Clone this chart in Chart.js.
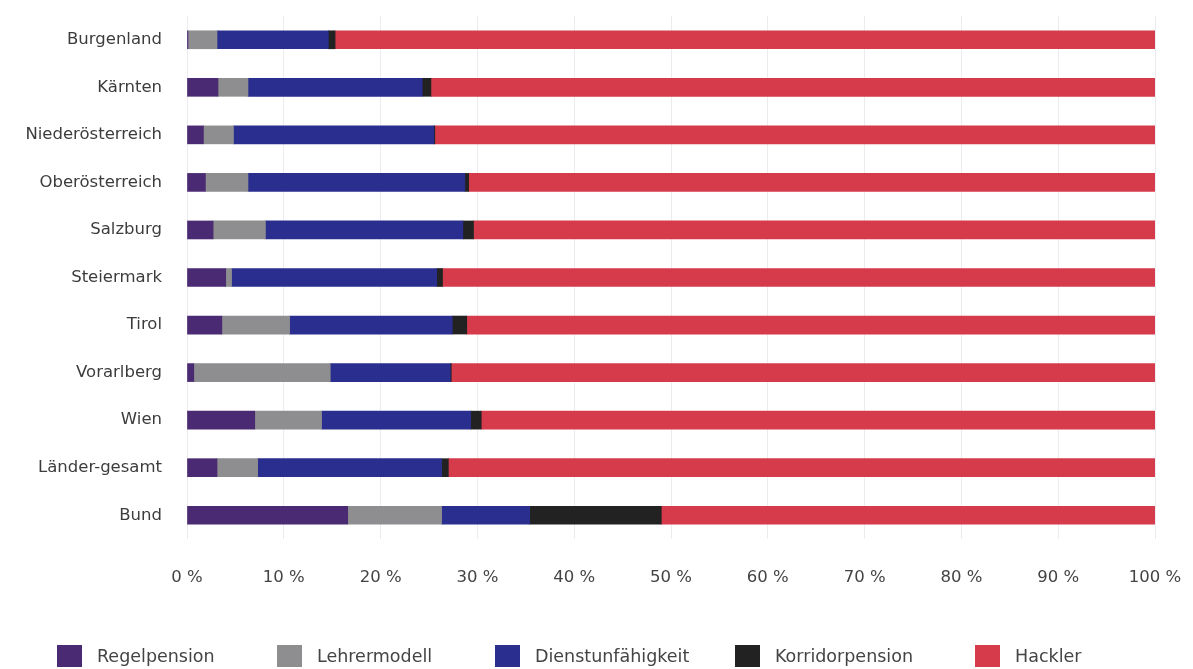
<!DOCTYPE html>
<html>
<head>
<meta charset="utf-8">
<script src="https://cdn.jsdelivr.net/npm/chart.js@4.4.0/dist/chart.umd.min.js"></script>
<style>
    html, body { margin: 0; padding: 0; background: #fff; }
    #wrap { position: relative; width: 1193px; height: 669px; }
    #legend { position: absolute; top: 645px; left: 0; width: 1193px; height: 24px;
        font-family: "DejaVu Sans", sans-serif; font-size: 17.5px; color: #444; }
    .item { position: absolute; top: 0; display: flex; align-items: center; }
    .box { width: 25px; height: 22px; margin-right: 15px; }
</style>
</head>
<body>
<div id="wrap">
    <canvas id="chart" width="1193" height="669"></canvas>
    <div id="legend"></div>
</div>
<script>
// Kategorien und Anteile in Prozent
const regions = ['Burgenland', 'Kärnten', 'Niederösterreich', 'Oberösterreich', 'Salzburg',
    'Steiermark', 'Tirol', 'Vorarlberg', 'Wien', 'Länder-gesamt', 'Bund'];

const regelpension      = [0.1, 3.2, 1.7, 1.9, 2.7, 4.0, 3.6, 0.7, 7.0, 3.1, 16.6];
const lehrermodell      = [3.0, 3.1, 3.1, 4.4, 5.4, 0.6, 7.0, 14.1, 6.9, 4.2, 9.7];
const dienstunfaehig    = [11.5, 18.0, 20.7, 22.4, 20.4, 21.2, 16.8, 12.4, 15.4, 19.0, 9.1];
const korridorpension   = [0.7, 0.9, 0.1, 0.4, 1.1, 0.6, 1.5, 0.1, 1.1, 0.7, 13.6];
const hackler           = [84.7, 74.8, 74.4, 70.9, 70.4, 73.6, 71.1, 72.7, 69.6, 73.0, 51.0];

const xTicks = [0, 10, 20, 30, 40, 50, 60, 70, 80, 90, 100];

const seriesNames = ['Regelpension', 'Lehrermodell', 'Dienstunfähigkeit', 'Korridorpension', 'Hackler'];
const seriesData = [regelpension, lehrermodell, dienstunfaehig, korridorpension, hackler];
const seriesColors = ['#4a2a72', '#8e8e90', '#2a2e8e', '#222222', '#d63b4c'];
const legendLeft = [57, 277, 495, 735, 975];

const FONT = '"DejaVu Sans", sans-serif';

new Chart(document.getElementById('chart'), {
    type: 'bar',
    data: {
        labels: regions,
        datasets: seriesNames.map((name, i) => ({
            label: name,
            data: seriesData[i],
            backgroundColor: seriesColors[i],
            borderWidth: 0,
            barThickness: 18
        }))
    },
    options: {
        indexAxis: 'y',
        responsive: false,
        animation: false,
        layout: { padding: { top: 16, right: 38, bottom: 69, left: 0 } },
        plugins: {
            legend: { display: false },
            tooltip: { enabled: false }
        },
        scales: {
            x: {
                stacked: true,
                min: 0,
                max: 100,
                afterBuildTicks: function(scale) {
                    scale.ticks = xTicks.map(v => ({ value: v }));
                },
                afterFit: function(scale) { scale.height = 61; },
                border: { display: false },
                // Abstand zu den Beschriftungen über unsichtbare Tick-Striche
                grid: { color: '#ececf0', tickColor: 'transparent', tickLength: 29 },
                ticks: {
                    padding: 0,
                    color: '#444',
                    font: { family: FONT, size: 16.5 },
                    callback: function(value) { return value + ' %'; }
                }
            },
            y: {
                stacked: true,
                afterFit: function(scale) { scale.width = 187; },
                border: { display: false },
                grid: { drawOnChartArea: false, tickColor: 'transparent', tickLength: 25 },
                ticks: {
                    padding: 0,
                    color: '#3c3c3c',
                    font: { family: FONT, size: 16.5 }
                }
            }
        }
    }
});

// Legende
const legend = document.getElementById('legend');
legend.innerHTML = seriesNames.map((name, i) => `
    <div class="item" style="left:${legendLeft[i]}px">
        <div class="box" style="background:${seriesColors[i]}"></div>
        <span>${name}</span>
    </div>
`).join('');
</script>
</body>
</html>
